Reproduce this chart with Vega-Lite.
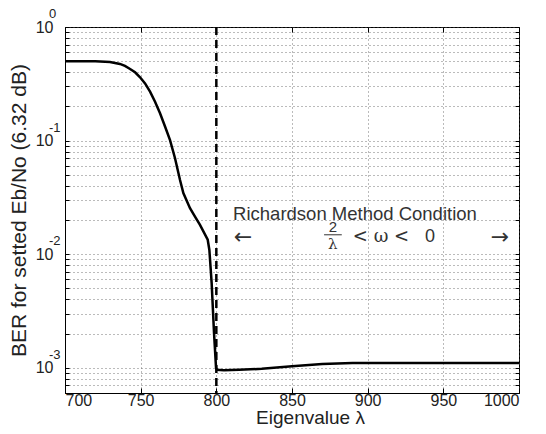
{
  "$schema": "https://vega.github.io/schema/vega-lite/v6.json",
  "autosize": {"type": "none"},
  "padding": {"left": 65, "top": 27, "right": 27, "bottom": 41},
  "width": 454,
  "height": 366,
  "background": "white",
  "config": {
    "view": {"stroke": "black", "strokeWidth": 1},
    "font": "Liberation Sans",
    "axis": {
      "labelFont": "Liberation Sans",
      "titleFont": "Liberation Sans",
      "labelColor": "#222",
      "titleColor": "#222",
      "labelFontSize": 16,
      "titleFontSize": 19,
      "titleFontWeight": "normal",
      "domainColor": "black",
      "tickColor": "black",
      "gridColor": "#555",
      "gridDash": [1, 3],
      "gridWidth": 1,
      "gridOpacity": 0.8
    }
  },
  "layer": [
    {
      "data": {
        "values": [
          {"lam": 700, "ber": 0.5},
          {"lam": 710, "ber": 0.5},
          {"lam": 720, "ber": 0.499},
          {"lam": 729.7, "ber": 0.492},
          {"lam": 736.3, "ber": 0.473},
          {"lam": 739.6, "ber": 0.454},
          {"lam": 743, "ber": 0.427},
          {"lam": 746.3, "ber": 0.399},
          {"lam": 749.6, "ber": 0.361},
          {"lam": 752.9, "ber": 0.319},
          {"lam": 756.2, "ber": 0.27},
          {"lam": 759.5, "ber": 0.22},
          {"lam": 762.8, "ber": 0.174},
          {"lam": 766.1, "ber": 0.133},
          {"lam": 769.4, "ber": 0.101},
          {"lam": 772.7, "ber": 0.07},
          {"lam": 776, "ber": 0.045},
          {"lam": 778.2, "ber": 0.0345},
          {"lam": 782.6, "ber": 0.0254},
          {"lam": 786, "ber": 0.0213},
          {"lam": 789.2, "ber": 0.0181},
          {"lam": 794.3, "ber": 0.0134},
          {"lam": 795.4, "ber": 0.0109},
          {"lam": 796.9, "ber": 0.0056},
          {"lam": 798.5, "ber": 0.002},
          {"lam": 799.8, "ber": 0.001},
          {"lam": 800.5, "ber": 0.00096},
          {"lam": 805, "ber": 0.00095},
          {"lam": 815, "ber": 0.00096},
          {"lam": 830, "ber": 0.00098},
          {"lam": 850, "ber": 0.00103},
          {"lam": 870, "ber": 0.00108},
          {"lam": 890, "ber": 0.0011},
          {"lam": 920, "ber": 0.0011},
          {"lam": 1000, "ber": 0.0011}
        ]
      },
      "mark": {"type": "line", "color": "black", "strokeWidth": 2.5, "clip": true},
      "encoding": {
        "x": {
          "field": "lam", "type": "quantitative",
          "scale": {"domain": [700, 1000], "nice": false, "zero": false},
          "axis": {
            "values": [700, 750, 800, 850, 900, 950, 1000],
            "format": "d",
            "title": "Eigenvalue  λ",
            "titleX": 245,
            "titlePadding": 0,
            "titleFontSize": 19,
            "tickSize": -5,
            "labelPadding": 4,
            "grid": true
          }
        },
        "y": {
          "field": "ber", "type": "quantitative",
          "scale": {"type": "log", "domain": [0.0006, 1], "nice": false},
          "axis": {
            "values": [0.0006, 0.0007, 0.0008, 0.0009, 0.001, 0.002, 0.003, 0.004, 0.005, 0.006, 0.007, 0.008, 0.009, 0.01, 0.02, 0.03, 0.04, 0.05, 0.06, 0.07, 0.08, 0.09, 0.1, 0.2, 0.3, 0.4, 0.5, 0.6, 0.7, 0.8, 0.9, 1],
            "labelExpr": "(abs(datum.value-1)<1e-9 || abs(datum.value-0.1)<1e-9 || abs(datum.value-0.01)<1e-10 || abs(datum.value-0.001)<1e-11) ? '10' : ''",
            "labelOverlap": false,
            "title": "BER for setted Eb/No (6.32 dB)",
            "titleFontSize": 21,
            "tickSize": -4,
            "labelPadding": 16,
            "titlePadding": 6,
            "grid": true
          }
        }
      }
    },
    {
      "data": {
        "values": [
          {"v": 1, "e": "0"},
          {"v": 0.1, "e": "-1"},
          {"v": 0.01, "e": "-2"},
          {"v": 0.001, "e": "-3"}
        ]
      },
      "mark": {"type": "text", "font": "Liberation Sans", "fontSize": 13, "color": "#222", "align": "left", "baseline": "middle", "dx": -16, "dy": -13, "clip": false},
      "encoding": {
        "x": {"datum": 700, "axis": null},
        "y": {"field": "v", "type": "quantitative", "axis": null},
        "text": {"field": "e"}
      }
    },
    {
      "data": {"values": [{}]},
      "mark": {"type": "rule", "color": "black", "strokeWidth": 2.5, "strokeDash": [8, 5]},
      "encoding": {
        "x": {"datum": 800, "axis": {"orient": "top", "values": [700, 750, 800, 850, 900, 950, 1000], "labels": false, "title": null, "tickSize": -5, "grid": false, "domain": false}}
      }
    },
    {
      "data": {"values": [{}]},
      "mark": {"type": "text", "font": "Liberation Sans", "fontSize": 18.5, "color": "#333", "align": "center", "baseline": "middle"},
      "encoding": {
        "x": {"datum": 891.6, "axis": null},
        "y": {"datum": 0.0227, "axis": {"orient": "right", "values": [0.0006, 0.0007, 0.0008, 0.0009, 0.001, 0.002, 0.003, 0.004, 0.005, 0.006, 0.007, 0.008, 0.009, 0.01, 0.02, 0.03, 0.04, 0.05, 0.06, 0.07, 0.08, 0.09, 0.1, 0.2, 0.3, 0.4, 0.5, 0.6, 0.7, 0.8, 0.9, 1], "labels": false, "title": null, "tickSize": -4, "grid": false, "domain": false}},
        "text": {"value": "Richardson Method Condition"}
      }
    },
    {
      "data": {"values": [{}]},
      "mark": {"type": "text", "font": "DejaVu Sans", "fontSize": 22, "color": "#333", "align": "center", "baseline": "middle"},
      "encoding": {
        "x": {"datum": 817.6, "axis": null},
        "y": {"datum": 0.0141, "axis": null},
        "text": {"value": "←"}
      }
    },
    {
      "data": {"values": [{}]},
      "mark": {"type": "text", "font": "DejaVu Sans", "fontSize": 22, "color": "#333", "align": "center", "baseline": "middle"},
      "encoding": {
        "x": {"datum": 987.4, "axis": null},
        "y": {"datum": 0.0141, "axis": null},
        "text": {"value": "→"}
      }
    },
    {
      "data": {"values": [{}]},
      "mark": {"type": "text", "font": "Liberation Sans", "fontSize": 15, "color": "#333", "align": "center", "baseline": "middle"},
      "encoding": {
        "x": {"datum": 877, "axis": null},
        "y": {"datum": 0.0175, "axis": null},
        "text": {"value": "2"}
      }
    },
    {
      "data": {"values": [{}]},
      "mark": {"type": "rule", "color": "#333", "strokeWidth": 1},
      "encoding": {
        "x": {"datum": 871.2, "axis": null},
        "x2": {"datum": 882.9},
        "y": {"datum": 0.01482, "axis": null}
      }
    },
    {
      "data": {"values": [{}]},
      "mark": {"type": "text", "font": "DejaVu Serif", "fontSize": 15, "color": "#333", "align": "center", "baseline": "middle"},
      "encoding": {
        "x": {"datum": 877, "axis": null},
        "y": {"datum": 0.0124, "axis": null},
        "text": {"value": "λ"}
      }
    },
    {
      "data": {"values": [{}]},
      "mark": {"type": "text", "font": "DejaVu Serif", "fontSize": 18, "color": "#333", "align": "center", "baseline": "middle"},
      "encoding": {
        "x": {"datum": 908.8, "axis": null},
        "y": {"datum": 0.0141, "axis": null},
        "text": {"value": "< ω <"}
      }
    },
    {
      "data": {"values": [{}]},
      "mark": {"type": "text", "font": "Liberation Sans", "fontSize": 18, "color": "#333", "align": "center", "baseline": "middle"},
      "encoding": {
        "x": {"datum": 941.2, "axis": null},
        "y": {"datum": 0.0141, "axis": null},
        "text": {"value": "0"}
      }
    }
  ],
  "resolve": {"axis": {"x": "independent", "y": "independent"}}
}
